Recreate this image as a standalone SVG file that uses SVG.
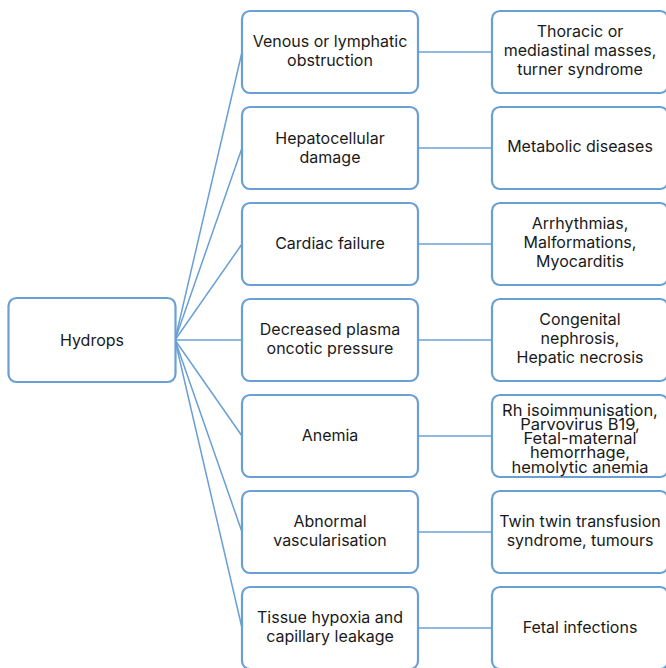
<svg xmlns="http://www.w3.org/2000/svg" width="666" height="668" viewBox="0 0 666 668">
  <style>
    .box { fill: #ffffff; stroke: #6a9fd4; stroke-width: 2.2; }
    .edge { fill: none; stroke: #6a9fd4; stroke-width: 1.5; }
    text { font-family: Inter, "Noto Sans", sans-serif; font-size: 16px; fill: #1a1a1a; text-anchor: middle; }
    .dense { font-size: 16.5px; }
  </style>
  <rect width="666" height="668" fill="#ffffff"/>

  <!-- connectors -->
  <g id="connectors">
    <line class="edge" x1="175" y1="340" x2="242" y2="52"/>
    <line class="edge" x1="175" y1="340" x2="242" y2="148"/>
    <line class="edge" x1="175" y1="340" x2="242" y2="244"/>
    <line class="edge" x1="175" y1="340" x2="242" y2="340"/>
    <line class="edge" x1="175" y1="340" x2="242" y2="436"/>
    <line class="edge" x1="175" y1="340" x2="242" y2="532"/>
    <line class="edge" x1="175" y1="340" x2="242" y2="628"/>
    <line class="edge" x1="418" y1="52" x2="492" y2="52"/>
    <line class="edge" x1="418" y1="148" x2="492" y2="148"/>
    <line class="edge" x1="418" y1="244" x2="492" y2="244"/>
    <line class="edge" x1="418" y1="340" x2="492" y2="340"/>
    <line class="edge" x1="418" y1="436" x2="492" y2="436"/>
    <line class="edge" x1="418" y1="532" x2="492" y2="532"/>
    <line class="edge" x1="418" y1="628" x2="492" y2="628"/>
  </g>

  <!-- root -->
  <g id="hydrops">
    <rect class="box" x="8.5" y="298" width="167" height="84" rx="8"/>
    <text x="92" y="345.5">Hydrops</text>
  </g>

  <!-- mechanisms -->
  <g id="venous">
    <rect class="box" x="242" y="11" width="176" height="82" rx="8"/>
    <text x="330" y="47">Venous or lymphatic</text>
    <text x="330" y="66">obstruction</text>
  </g>
  <g id="hepatocellular">
    <rect class="box" x="242" y="107" width="176" height="82" rx="8"/>
    <text x="330" y="143.5">Hepatocellular</text>
    <text x="330" y="162.5">damage</text>
  </g>
  <g id="cardiac">
    <rect class="box" x="242" y="203" width="176" height="82" rx="8"/>
    <text x="330" y="249">Cardiac failure</text>
  </g>
  <g id="oncotic">
    <rect class="box" x="242" y="299" width="176" height="82" rx="8"/>
    <text x="330" y="335">Decreased plasma</text>
    <text x="330" y="354">oncotic pressure</text>
  </g>
  <g id="anemia">
    <rect class="box" x="242" y="395" width="176" height="82" rx="8"/>
    <text x="330" y="441">Anemia</text>
  </g>
  <g id="vascularisation">
    <rect class="box" x="242" y="491" width="176" height="82" rx="8"/>
    <text x="330" y="527">Abnormal</text>
    <text x="330" y="546">vascularisation</text>
  </g>
  <g id="hypoxia">
    <rect class="box" x="242" y="587" width="176" height="82" rx="8"/>
    <text x="330" y="623">Tissue hypoxia and</text>
    <text x="330" y="642">capillary leakage</text>
  </g>

  <!-- causes -->
  <g id="masses">
    <rect class="box" x="492" y="11" width="176" height="82" rx="8"/>
    <text x="580" y="37">Thoracic or</text>
    <text x="580" y="56">mediastinal masses,</text>
    <text x="580" y="75">turner syndrome</text>
  </g>
  <g id="metabolic">
    <rect class="box" x="492" y="107" width="176" height="82" rx="8"/>
    <text x="580" y="152">Metabolic diseases</text>
  </g>
  <g id="arrhythmias">
    <rect class="box" x="492" y="203" width="176" height="82" rx="8"/>
    <text x="580" y="229">Arrhythmias,</text>
    <text x="580" y="248">Malformations,</text>
    <text x="580" y="267">Myocarditis</text>
  </g>
  <g id="nephrosis">
    <rect class="box" x="492" y="299" width="176" height="82" rx="8"/>
    <text x="580" y="325">Congenital</text>
    <text x="580" y="344">nephrosis,</text>
    <text x="580" y="363">Hepatic necrosis</text>
  </g>
  <g id="isoimmunisation">
    <rect class="box" x="492" y="395" width="176" height="82" rx="8"/>
    <text class="dense" x="580" y="416">Rh isoimmunisation,</text>
    <text class="dense" x="580" y="430">Parvovirus B19,</text>
    <text class="dense" x="580" y="444">Fetal-maternal</text>
    <text class="dense" x="580" y="458">hemorrhage,</text>
    <text class="dense" x="580" y="472.5">hemolytic anemia</text>
  </g>
  <g id="twin">
    <rect class="box" x="492" y="491" width="176" height="82" rx="8"/>
    <text x="580" y="527">Twin twin transfusion</text>
    <text x="580" y="546">syndrome, tumours</text>
  </g>
  <g id="infections">
    <rect class="box" x="492" y="587" width="176" height="82" rx="8"/>
    <text x="580" y="633">Fetal infections</text>
  </g>
</svg>
